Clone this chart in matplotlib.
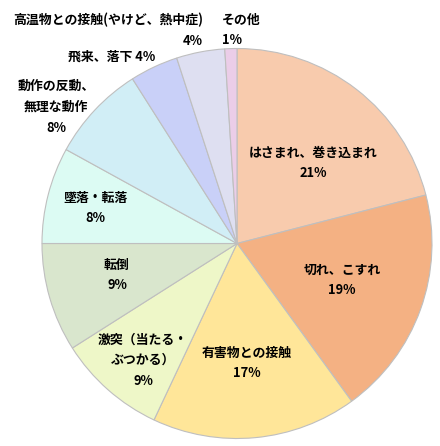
import matplotlib
matplotlib.use("Agg")
import matplotlib.pyplot as plt

categories = ["はさまれ、巻き込まれ", "切れ、こすれ", "有害物との接触", "激突（当たる・\nぶつかる）",
              "転倒", "墜落・転落", "動作の反動、\n無理な動作", "飛来、落下", "高温物との接触(やけど、熱中症)", "その他"]
values = [21, 19, 17, 9, 9, 8, 8, 4, 4, 1]
colors = ["#F8CBAD", "#F4B183", "#FFE699", "#EEF7C8", "#D9E6CD",
          "#DCFBF3", "#D1EEF6", "#C9D0F8", "#DEDFF1", "#EBCDE8"]

plt.rcParams['font.family'] = ['Noto Sans CJK JP', 'DejaVu Sans']

W, H = 440, 446
fig = plt.figure(figsize=(W / 100, H / 100), dpi=100)
ax = fig.add_axes([0, 0, 1, 1])
ax.set_xlim(0, W)
ax.set_ylim(0, H)
ax.axis('off')

cx, cy, r = 237, H - 243.5, 195
ax.pie(values, colors=colors, startangle=90, counterclock=False, center=(cx, cy), radius=r,
       wedgeprops=dict(edgecolor="#BFBFBF", linewidth=0.8), frame=False)
ax.set_xlim(0, W)
ax.set_ylim(0, H)
ax.set_aspect('auto')

fs = 9.3
def lab(x, y, s, ha='center', ma='center'):
    ax.text(x, H - y, s, ha=ha, va='center', fontsize=fs, fontweight='bold',
            color='#000000', multialignment=ma, linespacing=1.6)

lab(313, 163, f"{categories[0]}\n{values[0]}%")
lab(342, 280, f"{categories[1]}\n{values[1]}%")
lab(247, 363, f"{categories[2]}\n{values[2]}%")
lab(143, 360, f"{categories[3]}\n{values[3]}%")
lab(117, 275, f"{categories[4]}\n{values[4]}%")
lab(95, 208, f"{categories[5]}\n{values[5]}%")
lab(56, 107, f"{categories[6]}\n{values[6]}%")
lab(112, 57, f"{categories[7]} {values[7]}%")
lab(203, 30, f"{categories[8]}\n{values[8]}%", ha='right', ma='right')
lab(222, 30, f"{categories[9]}\n{values[9]}%", ha='left', ma='left')

fig.savefig("out.png", dpi=100)
